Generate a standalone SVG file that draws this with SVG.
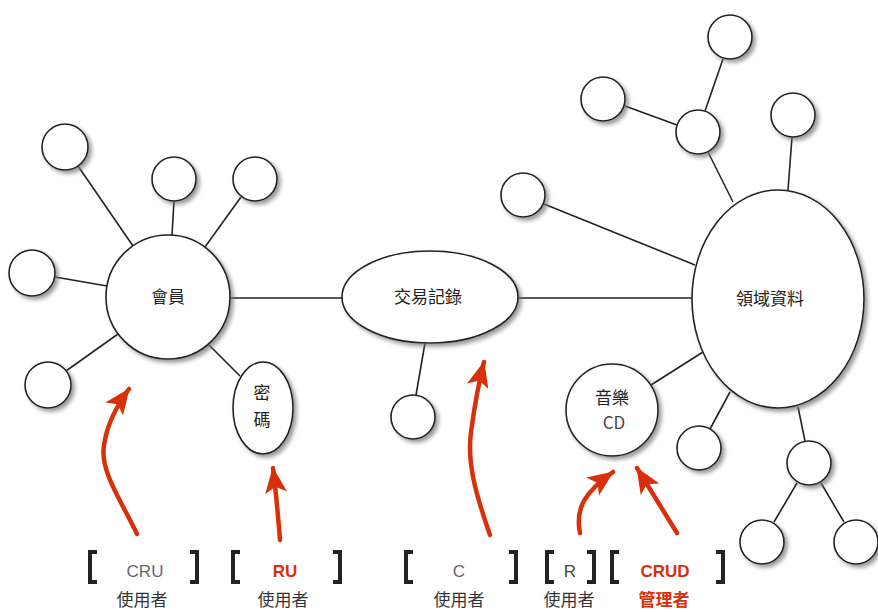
<svg xmlns="http://www.w3.org/2000/svg" width="878" height="612" viewBox="0 0 878 612">
  <defs>
    <filter id="shadow" x="-30%" y="-30%" width="170%" height="170%">
      <feDropShadow dx="3" dy="3" stdDeviation="2" flood-color="#777" flood-opacity="0.75"/>
    </filter>
    <marker id="head" viewBox="0 0 26 22" refX="25" refY="11" markerWidth="26" markerHeight="22" markerUnits="userSpaceOnUse" orient="auto">
      <path d="M0,0 L26,11 L0,22 L6,11 z" fill="#d9300c"/>
    </marker>
    <style>
      .node { fill: #fff; stroke: #222; stroke-width: 1.6; filter: url(#shadow); }
      .link { stroke: #222; stroke-width: 1.6; fill: none; }
      .arrow { stroke: #d9300c; stroke-width: 4.5; fill: none; stroke-linecap: round; marker-end: url(#head); }
      .lbl { font-family: "Noto Sans CJK TC", "Liberation Sans", sans-serif; font-size: 17px; fill: #222; text-anchor: middle; }
      .code { font-family: "Liberation Sans", Arial, sans-serif; font-size: 17px; text-anchor: middle; fill: #666; }
      .codeRed { font-family: "Liberation Sans", Arial, sans-serif; font-size: 17px; font-weight: bold; text-anchor: middle; fill: #d9300c; }
      .role { font-family: "Noto Sans CJK TC", sans-serif; font-size: 17px; text-anchor: middle; fill: #333; }
      .roleRed { font-family: "Noto Sans CJK TC", sans-serif; font-size: 17px; font-weight: bold; text-anchor: middle; fill: #d9300c; }
      .bracket { stroke: #222; stroke-width: 4; fill: none; }
    </style>
  </defs>

  <rect width="878" height="612" fill="#fff"/>

  <!-- connectors -->
  <g id="connectors" class="link">
    <line x1="78" y1="166" x2="133" y2="246"/>
    <line x1="174" y1="201" x2="172" y2="235"/>
    <line x1="241" y1="197" x2="205" y2="247"/>
    <line x1="55" y1="277" x2="107" y2="286"/>
    <line x1="66" y1="371" x2="118" y2="334"/>
    <line x1="208" y1="344" x2="240" y2="376"/>
    <line x1="230" y1="298" x2="342" y2="298"/>
    <line x1="425" y1="343" x2="416" y2="395"/>
    <line x1="518" y1="298" x2="692" y2="298"/>
    <line x1="544" y1="204" x2="695" y2="265"/>
    <line x1="708" y1="152" x2="733" y2="202"/>
    <line x1="625" y1="106" x2="677" y2="125"/>
    <line x1="723" y1="59" x2="705" y2="111"/>
    <line x1="792" y1="137" x2="788" y2="190"/>
    <line x1="651" y1="385" x2="703" y2="352"/>
    <line x1="710" y1="429" x2="730" y2="392"/>
    <line x1="805" y1="441" x2="798" y2="407"/>
    <line x1="797" y1="483" x2="774" y2="522"/>
    <line x1="821" y1="483" x2="844" y2="522"/>
  </g>

  <!-- member cluster -->
  <g id="member">
    <circle class="node" cx="168" cy="297" r="62"/>
    <text class="lbl" x="168" y="303">會員</text>
  </g>
  <g id="member-attr-1"><circle class="node" cx="65" cy="147" r="23"/></g>
  <g id="member-attr-2"><circle class="node" cx="174" cy="179" r="22"/></g>
  <g id="member-attr-3"><circle class="node" cx="255" cy="179" r="22"/></g>
  <g id="member-attr-4"><circle class="node" cx="32" cy="273" r="23"/></g>
  <g id="member-attr-5"><circle class="node" cx="48" cy="385" r="23"/></g>
  <g id="password">
    <ellipse class="node" cx="263" cy="408" rx="30" ry="46"/>
    <text class="lbl" x="262" y="399">密</text>
    <text class="lbl" x="262" y="426">碼</text>
  </g>

  <!-- transaction -->
  <g id="transaction">
    <ellipse class="node" cx="430" cy="297" rx="88" ry="46"/>
    <text class="lbl" x="428" y="303">交易記錄</text>
  </g>
  <g id="transaction-attr"><circle class="node" cx="413" cy="417" r="22"/></g>

  <!-- domain data cluster -->
  <g id="domain">
    <ellipse class="node" cx="778" cy="299" rx="86" ry="109"/>
    <text class="lbl" x="770" y="305">領域資料</text>
  </g>
  <g id="domain-attr-1"><circle class="node" cx="523" cy="195" r="22"/></g>
  <g id="domain-attr-2"><circle class="node" cx="698" cy="132" r="22"/></g>
  <g id="domain-attr-3"><circle class="node" cx="603" cy="99" r="22"/></g>
  <g id="domain-attr-4"><circle class="node" cx="730" cy="37" r="22"/></g>
  <g id="domain-attr-5"><circle class="node" cx="793" cy="115" r="22"/></g>
  <g id="music-cd">
    <circle class="node" cx="612" cy="410" r="46"/>
    <text class="lbl" x="612" y="404">音樂</text>
    <text class="lbl" x="614" y="429" style="fill:#444">CD</text>
  </g>
  <g id="domain-attr-6"><circle class="node" cx="699" cy="448" r="22"/></g>
  <g id="domain-attr-7"><circle class="node" cx="809" cy="463" r="22"/></g>
  <g id="domain-attr-8"><circle class="node" cx="762" cy="542" r="22"/></g>
  <g id="domain-attr-9"><circle class="node" cx="856" cy="542" r="22"/></g>

  <!-- permission arrows -->
  <g id="arrows">
    <path class="arrow" d="M137,534 C118,495 100,470 104,445 C107,425 115,408 129,389"/>
    <path class="arrow" d="M280,540 C278,515 276,492 273,468"/>
    <path class="arrow" d="M490,535 C475,492 467,462 471,432 C474,410 478,385 484,362"/>
    <path class="arrow" d="M580,533 C575,508 585,492 613,472"/>
    <path class="arrow" d="M677,533 L637,468"/>
  </g>

  <!-- permission labels -->
  <g id="labels">
    <path class="bracket" d="M97,552 H90 V582 H97"/>
    <text class="code" x="145" y="577">CRU</text>
    <path class="bracket" d="M190,552 H197 V582 H190"/>
    <text class="role" x="142" y="606">使用者</text>

    <path class="bracket" d="M240,552 H233 V582 H240"/>
    <text class="codeRed" x="285" y="577">RU</text>
    <path class="bracket" d="M333,552 H340 V582 H333"/>
    <text class="role" x="283" y="606">使用者</text>

    <path class="bracket" d="M413,552 H406 V582 H413"/>
    <text class="code" x="459" y="577">C</text>
    <path class="bracket" d="M509,552 H516 V582 H509"/>
    <text class="role" x="459" y="606">使用者</text>

    <path class="bracket" d="M554,552 H547 V582 H554"/>
    <text class="code" x="570" y="577" style="fill:#444">R</text>
    <path class="bracket" d="M587,552 H594 V582 H587"/>
    <text class="role" x="569" y="606">使用者</text>

    <path class="bracket" d="M619,552 H612 V582 H619"/>
    <text class="codeRed" x="665" y="577">CRUD</text>
    <path class="bracket" d="M716,552 H723 V582 H716"/>
    <text class="roleRed" x="664" y="606">管理者</text>
  </g>
</svg>
